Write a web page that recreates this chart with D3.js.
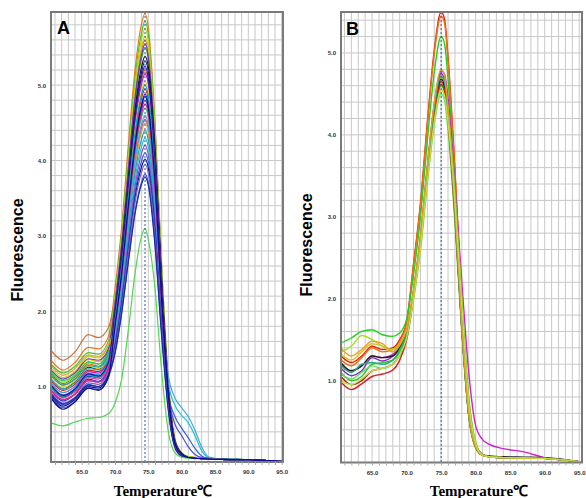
<!DOCTYPE html>
<html><head><meta charset="utf-8">
<script src="https://cdn.jsdelivr.net/npm/d3@7/dist/d3.min.js"></script>
<style>body{margin:0;background:#fff}</style>
</head><body>
<svg id="c" width="586" height="498"></svg>
<script>
// ---------- data ----------
const tempsA = [60.4, 62.2, 64, 66, 67.5, 69, 70, 71, 72, 73, 74, 74.5, 75, 76, 77, 78, 79, 80, 81, 82, 83, 84, 86, 90, 95.2];
const tempsB = [60.5, 62, 63.5, 65, 66.5, 68, 69, 70, 71, 72, 73, 74, 75, 75.5, 76, 77, 78, 79, 80, 81, 82, 84, 87, 90, 95.4];
const xTickValues = [65, 70, 75, 80, 85, 90, 95];
const yTickValues = [1, 2, 3, 4, 5];
const yMaxA = 5.97, yMaxB = 5.5;
const markerA = 74.5, markerB = 75.0;

const curvesA = [
  [1.48,1.35,1.46,1.69,1.65,1.78, 2.2,2.95,3.95,4.9,5.48,5.6,5.42,4.25,2.45,1.0,0.28,0.11, 0.07,0.06,0.05,0.045,0.04,0.03,0.005],
  [1.35,1.22,1.32,1.52,1.5,1.66, 2.3,3.12,4.2,5.2,5.82,5.95,5.76,4.5,2.6,1.06,0.3,0.12, 0.07,0.06,0.05,0.045,0.04,0.03,0.005],
  [1.3,1.18,1.27,1.45,1.43,1.6, 2.22,3.04,4.1,5.09,5.7,5.85,5.67,4.45,2.57,1.05,0.29,0.12, 0.07,0.06,0.05,0.045,0.04,0.03,0.005],
  [1.25,1.12,1.2,1.4,1.38,1.55, 2.18,2.99,4.03,5.0,5.61,5.75,5.58,4.37,2.53,1.04,0.29,0.12, 0.07,0.06,0.05,0.045,0.04,0.03,0.005],
  [1.2,1.06,1.15,1.36,1.33,1.5, 2.15,2.94,3.96,4.92,5.51,5.65,5.48,4.29,2.49,1.02,0.28,0.11, 0.06,0.05,0.045,0.04,0.035,0.03,0.005],
  [1.18,1.04,1.13,1.33,1.3,1.47, 2.09,2.86,3.85,4.79,5.36,5.5,5.34,4.18,2.42,0.99,0.28,0.11, 0.06,0.05,0.045,0.04,0.035,0.03,0.005],
  [1.22,1.1,1.18,1.37,1.35,1.5, 2.11,2.89,3.89,4.83,5.41,5.55,5.38,4.22,2.44,1.0,0.28,0.11, 0.06,0.05,0.045,0.04,0.035,0.03,0.005],
  [1.1,0.97,1.06,1.26,1.23,1.4, 2.0,2.78,3.75,4.67,5.25,5.38,5.24,4.12,2.4,0.98,0.27,0.11, 0.06,0.05,0.045,0.04,0.035,0.03,0.005],
  [1.0,0.86,0.95,1.14,1.12,1.3, 1.95,2.74,3.7,4.62,5.18,5.32,5.18,4.06,2.36,0.97,0.27,0.11, 0.06,0.05,0.045,0.04,0.035,0.03,0.005],
  [1.15,1.02,1.1,1.3,1.27,1.44, 1.98,2.7,3.64,4.52,5.07,5.2,5.04,3.95,2.29,0.94,0.26,0.1, 0.06,0.05,0.045,0.04,0.035,0.03,0.005],
  [1.05,0.92,1.0,1.2,1.18,1.35, 1.94,2.66,3.6,4.47,5.02,5.15,5.01,3.93,2.28,0.93,0.26,0.1, 0.06,0.05,0.045,0.04,0.035,0.03,0.005],
  [1.12,0.99,1.08,1.27,1.24,1.4, 1.92,2.63,3.54,4.39,4.92,5.05,4.9,3.84,2.22,0.91,0.25,0.1, 0.06,0.05,0.045,0.04,0.035,0.03,0.005],
  [1.08,0.95,1.03,1.22,1.2,1.37, 1.88,2.57,3.47,4.31,4.83,4.95,4.8,3.76,2.18,0.89,0.25,0.1, 0.06,0.05,0.045,0.04,0.035,0.03,0.005],
  [0.95,0.81,0.9,1.1,1.07,1.24, 1.82,2.52,3.4,4.24,4.75,4.88,4.74,3.72,2.16,0.88,0.24,0.1, 0.06,0.05,0.045,0.04,0.035,0.03,0.005],
  [1.02,0.89,0.97,1.16,1.14,1.3, 1.82,2.5,3.36,4.18,4.68,4.8,4.66,3.65,2.11,0.86,0.24,0.1, 0.06,0.05,0.045,0.04,0.035,0.03,0.005],
  [1.2,1.08,1.15,1.32,1.3,1.44, 1.79,2.44,3.29,4.09,4.58,4.7,4.56,3.57,2.07,0.85,0.24,0.09, 0.06,0.05,0.045,0.04,0.035,0.03,0.005],
  [0.98,0.85,0.93,1.12,1.1,1.26, 1.73,2.37,3.19,3.96,4.44,4.55,4.41,3.46,2.0,0.82,0.23,0.09, 0.06,0.05,0.045,0.04,0.035,0.03,0.005],
  [1.28,1.15,1.24,1.42,1.4,1.55, 1.8,2.38,3.15,3.92,4.39,4.5,4.37,3.42,1.98,0.81,0.23,0.09, 0.06,0.05,0.045,0.04,0.035,0.03,0.005],
  [1.15,1.02,1.1,1.28,1.26,1.42, 1.7,2.29,3.08,3.83,4.29,4.4,4.27,3.34,1.94,0.79,0.22,0.09, 0.06,0.05,0.045,0.04,0.035,0.03,0.005],
  [1.1,0.97,1.05,1.24,1.22,1.38, 1.65,2.24,3.01,3.74,4.19,4.3,4.17,3.3,1.98,1.05,0.75,0.62, 0.52,0.35,0.15,0.06,0.04,0.03,0.005],
  [0.92,0.78,0.86,1.05,1.03,1.2, 1.6,2.18,2.94,3.65,4.1,4.2,4.07,3.19,1.85,0.76,0.21,0.08, 0.06,0.05,0.045,0.04,0.035,0.03,0.005],
  [0.9,0.76,0.85,1.03,1.0,1.16, 1.56,2.13,2.87,3.57,4.0,4.1,3.98,3.15,1.85,0.9,0.6,0.45, 0.32,0.18,0.08,0.05,0.04,0.03,0.005],
  [0.88,0.74,0.83,1.0,0.98,1.14, 1.53,2.09,2.81,3.5,3.92,4.02,3.9,3.06,1.77,0.72,0.2,0.08, 0.06,0.05,0.045,0.04,0.035,0.03,0.005],
  [0.95,0.82,0.9,1.08,1.06,1.2, 1.5,2.05,2.77,3.44,3.85,3.95,3.83,3.0,1.74,0.71,0.2,0.08, 0.06,0.05,0.045,0.04,0.035,0.03,0.005],
  [0.86,0.72,0.8,0.98,0.96,1.12, 1.45,1.99,2.67,3.32,3.72,3.82,3.71,2.92,1.72,0.85,0.5,0.35, 0.2,0.1,0.06,0.05,0.04,0.03,0.005],
  [0.9,0.77,0.85,1.02,1.0,1.15, 1.44,1.97,2.65,3.29,3.69,3.78,3.67,2.87,1.66,0.68,0.19,0.08, 0.06,0.05,0.045,0.04,0.035,0.03,0.005],
  [1.05,0.92,1.0,1.18,1.16,1.33, 1.75,2.39,3.22,4.0,4.49,4.6,4.46,3.52,2.1,1.15,0.85,0.72, 0.6,0.42,0.2,0.07,0.04,0.03,0.005],
  [0.52,0.48,0.53,0.58,0.59,0.64, 0.78,1.1,1.75,2.5,3.0,3.1,2.95,2.3,1.2,0.4,0.12,0.06, 0.05,0.045,0.04,0.04,0.035,0.03,0.005],
  [1.0,0.87,0.96,1.15,1.12,1.3, 1.9,2.6,3.5,4.35,4.88,5.0,4.85,3.8,2.2,0.9,0.25,0.1, 0.06,0.05,0.045,0.04,0.035,0.03,0.005],
  [0.95,0.83,0.9,1.08,1.06,1.22, 1.81,2.47,3.33,4.13,4.63,4.75,4.61,3.61,2.09,0.86,0.24,0.1, 0.06,0.05,0.045,0.04,0.035,0.03,0.005],
  [1.02,0.88,0.97,1.17,1.14,1.32, 2.0,2.73,3.68,4.57,5.12,5.25,5.09,3.99,2.31,0.95,0.26,0.11, 0.06,0.05,0.045,0.04,0.035,0.03,0.005],
  [0.85,0.7,0.8,0.98,0.95,1.12, 1.8,2.5,3.4,4.2,4.73,4.85,4.7,3.7,2.14,0.88,0.24,0.1, 0.06,0.05,0.045,0.04,0.035,0.03,0.005]
];
const coloursA = ["#c8703a","#f07818","#40c040","#a8d820","#e0c800","#20b020","#8030c0","#181818",
  "#102080","#e06010","#c020c0","#e8d020","#d82020","#2030d0","#7040b0","#30d060",
  "#d040a0","#f0a020","#20a0a0","#20c0d8","#9050d0","#3060e0","#101890","#8060c0",
  "#5050d0","#1030a0","#40a8e0","#50d850","#00b0b0","#e02080","#1a1aa8","#0c0c90"];

const curvesB = [
  [1.3,1.22,1.3,1.42,1.38,1.4,1.5, 1.72, 2.42,3.16,4.15,5.03,5.5,5.41,4.95,3.58,1.93,0.69,0.22, 0.1,0.07,0.06,0.055,0.05,0.005],
  [1.25,1.18,1.28,1.4,1.35,1.38,1.48, 1.7, 2.4,3.13,4.11,4.99,5.45,5.36,4.9,3.54,1.9,0.68,0.22, 0.1,0.07,0.06,0.055,0.05,0.005],
  [1.46,1.52,1.6,1.62,1.56,1.54,1.58, 1.75, 2.29,2.99,3.93,4.76,5.2,5.11,4.68,3.38,1.82,0.65,0.21, 0.09,0.07,0.06,0.055,0.05,0.005],
  [1.2,1.12,1.18,1.3,1.28,1.32,1.42, 1.6, 2.1,2.75,3.61,4.37,4.78,4.74,4.45,3.4,2.2,1.1,0.45, 0.28,0.22,0.17,0.13,0.06,0.01],
  [1.15,1.06,1.12,1.28,1.24,1.3,1.4, 1.58, 2.09,2.73,3.59,4.35,4.75,4.67,4.28,3.09,1.66,0.59,0.19, 0.09,0.07,0.06,0.055,0.05,0.005],
  [1.35,1.42,1.55,1.5,1.42,1.38,1.45, 1.62, 2.07,2.7,3.55,4.3,4.7,4.62,4.3,3.3,2.0,0.8,0.25, 0.09,0.07,0.06,0.055,0.05,0.005],
  [1.05,0.95,1.0,1.12,1.15,1.2,1.32, 1.55, 2.05,2.67,3.51,4.25,4.65,4.57,4.19,3.02,1.63,0.58,0.19, 0.09,0.07,0.06,0.055,0.05,0.005],
  [1.1,1.0,1.05,1.2,1.22,1.25,1.35, 1.55, 2.02,2.65,3.47,4.21,4.6,4.52,4.2,3.25,1.95,0.78,0.24, 0.09,0.07,0.06,0.055,0.05,0.005],
  [1.32,1.25,1.35,1.45,1.42,1.35,1.42, 1.58, 2.0,2.62,3.44,4.16,4.55,4.47,4.1,2.96,1.59,0.57,0.18, 0.09,0.07,0.06,0.055,0.05,0.005],
  [1.22,1.12,1.18,1.3,1.28,1.3,1.4, 1.58, 2.06,2.69,3.53,4.28,4.68,4.6,4.21,3.04,1.64,0.59,0.19, 0.09,0.08,0.07,0.065,0.06,0.005],
  [1.08,1.02,1.1,1.18,1.15,1.2,1.3, 1.5, 1.98,2.59,3.4,4.12,4.5,4.42,4.05,2.93,1.58,0.56,0.18, 0.09,0.07,0.06,0.055,0.05,0.005],
  [0.98,0.89,0.96,1.05,1.08,1.13,1.25, 1.5, 2.03,2.66,3.49,4.23,4.62,4.54,4.16,3.0,1.62,0.58,0.18, 0.09,0.07,0.06,0.055,0.05,0.005],
  [1.18,1.1,1.2,1.22,1.2,1.25,1.38, 1.58, 2.08,2.71,3.56,4.32,4.72,4.64,4.25,3.07,1.65,0.59,0.19, 0.09,0.07,0.06,0.055,0.05,0.005],
  [1.4,1.3,1.38,1.48,1.45,1.35,1.45, 1.62, 2.11,2.76,3.62,4.39,4.8,4.72,4.32,3.12,1.68,0.6,0.19, 0.09,0.07,0.06,0.055,0.05,0.005],
  [1.0,0.95,1.02,1.12,1.15,1.2,1.32, 1.52, 2.0,2.62,3.44,4.16,4.55,4.47,4.15,3.2,1.92,0.75,0.23, 0.09,0.07,0.06,0.055,0.05,0.005]
];
const coloursB = ["#e82010","#f07010","#20d020","#d020d0","#8030c0","#a0e020","#c01010","#30c030",
  "#e0c020","#202020","#60e060","#d02020","#20b080","#e8a020","#c0e040"];

// ---------- drawing ----------
const svg = d3.select("#c");

function drawPanel(o) {
  const x = d3.scaleLinear().domain(o.xDomain).range([o.left, o.right]);
  const y = d3.scaleLinear().domain([0, o.yMax]).range([o.bottom, o.top]);
  const g = svg.append("g");
  const clipId = "clip" + o.id;
  svg.append("clipPath").attr("id", clipId).append("rect")
    .attr("x", o.left).attr("y", o.top).attr("width", o.right - o.left).attr("height", o.bottom - o.top);

  // grid
  const vGrid = d3.range(Math.ceil(o.xDomain[0]), Math.floor(o.xDomain[1]) + 1);
  const hGrid = d3.range(1, Math.floor(o.yMax * 5) + 1).map(k => k * 0.2);
  g.append("g").selectAll("line").data(vGrid).join("line")
    .attr("x1", d => x(d)).attr("x2", d => x(d)).attr("y1", o.top).attr("y2", o.bottom)
    .attr("stroke", "#c8c8c8").attr("stroke-width", 1);
  g.append("g").selectAll("line").data(hGrid).join("line")
    .attr("x1", o.left).attr("x2", o.right).attr("y1", d => y(d)).attr("y2", d => y(d))
    .attr("stroke", "#c8c8c8").attr("stroke-width", 1);

  // curves
  const line = d3.line().x((d, i) => x(o.temps[i])).y(d => y(d)).curve(d3.curveMonotoneX);
  g.append("g").attr("clip-path", `url(#${clipId})`).selectAll("path").data(o.curves).join("path")
    .attr("d", line).attr("fill", "none")
    .attr("stroke", (d, i) => o.colours[i]).attr("stroke-width", o.lineWidth);

  // marker line
  g.append("line").attr("x1", x(o.marker)).attr("x2", x(o.marker)).attr("y1", o.top).attr("y2", o.bottom)
    .attr("stroke", "#3050c0").attr("stroke-width", 1).attr("stroke-dasharray", "2,2");

  // frame
  g.append("rect").attr("x", o.left).attr("y", o.top).attr("width", o.right - o.left).attr("height", o.bottom - o.top)
    .attr("fill", "none").attr("stroke", "#7a7a7a").attr("stroke-width", 2);

  // axes
  const xa = g.append("g").attr("transform", `translate(0,${o.bottom})`)
    .call(d3.axisBottom(x).tickValues(xTickValues).tickFormat(d3.format(".1f")).tickSize(0).tickPadding(8));
  xa.select(".domain").remove();
  xa.selectAll("text").attr("font-size", 6).attr("font-weight", "bold").attr("fill", "#333").attr("font-family", "Arial, Liberation Sans, sans-serif");
  const xm = g.append("g").attr("transform", `translate(0,${o.bottom})`)
    .call(d3.axisBottom(x).tickValues(vGrid).tickFormat("").tickSize(3));
  xm.select(".domain").remove();
  xm.selectAll("line").attr("stroke", "#aaa");

  const ya = g.append("g").attr("transform", `translate(${o.left},0)`)
    .call(d3.axisLeft(y).tickValues(yTickValues).tickFormat(d3.format(".1f")).tickSize(0).tickPadding(5));
  ya.select(".domain").remove();
  ya.selectAll("text").attr("font-size", 6).attr("font-weight", "bold").attr("fill", "#333").attr("font-family", "Arial, Liberation Sans, sans-serif");

  // panel letter
  svg.append("text").attr("x", o.letterX).attr("y", o.letterY).text(o.letter)
    .attr("font-family", "Arial, Liberation Sans, sans-serif").attr("font-weight", "bold").attr("font-size", 18).attr("fill", "#000");
  // y title
  svg.append("text").attr("transform", `translate(${o.yTitleX},${o.yTitleY}) rotate(-90)`)
    .attr("text-anchor", "middle").attr("dy", "0.35em").text("Fluorescence")
    .attr("font-family", "Arial, Liberation Sans, sans-serif").attr("font-weight", "bold").attr("font-size", 16);
  // x title
  svg.append("text").attr("x", o.xTitleX).attr("y", 496).attr("text-anchor", "middle")
    .attr("font-family", "Liberation Serif, Times New Roman, serif").attr("font-weight", "bold").attr("font-size", 15)
    .text("Temperature℃");
}

drawPanel({id: "A", temps: tempsA, curves: curvesA, colours: coloursA, xDomain: [60.4, 95.2], yMax: yMaxA,
  left: 51, right: 283, top: 12, bottom: 462, marker: markerA, lineWidth: 1.2,
  letter: "A", letterX: 57, letterY: 34, yTitleX: 17, yTitleY: 250, xTitleX: 163});
drawPanel({id: "B", temps: tempsB, curves: curvesB, colours: coloursB, xDomain: [60.5, 95.4], yMax: yMaxB,
  left: 341, right: 582, top: 12, bottom: 462.5, marker: markerB, lineWidth: 1.4,
  letter: "B", letterX: 346, letterY: 35, yTitleX: 306, yTitleY: 245, xTitleX: 479});
</script>
</body></html>
